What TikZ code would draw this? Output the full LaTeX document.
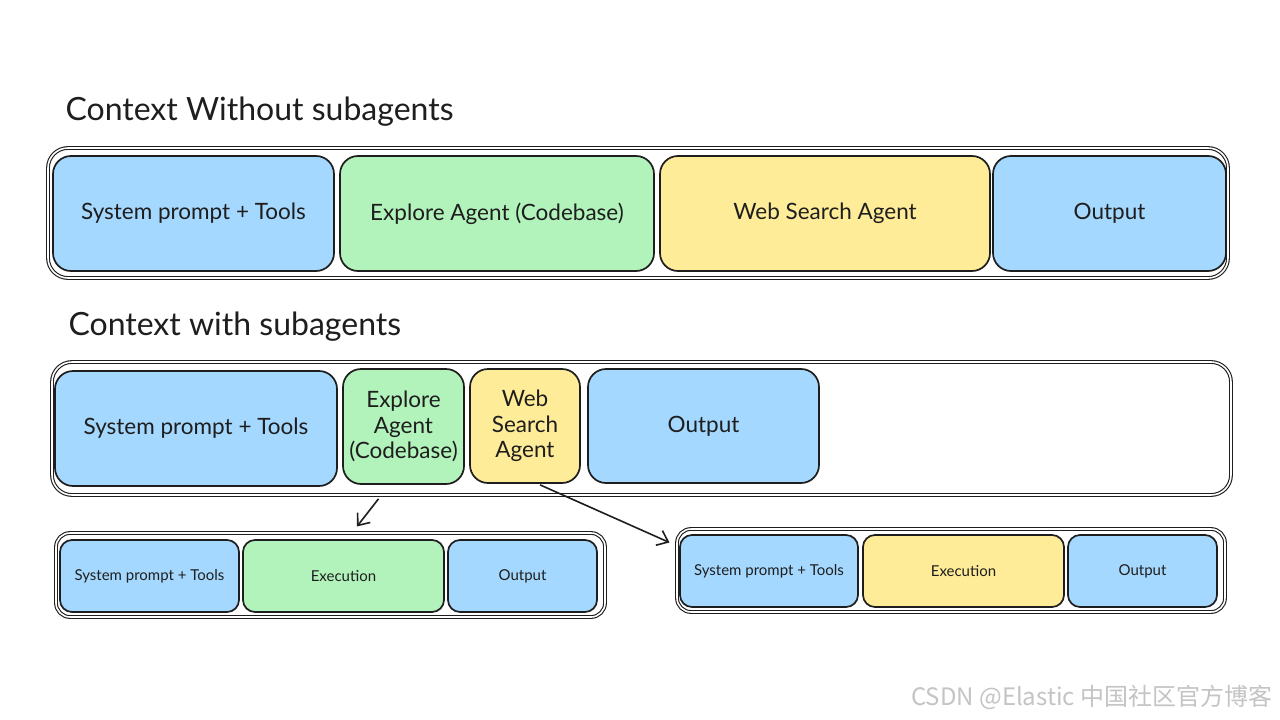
\documentclass[tikz,border=0pt]{standalone}
\usepackage{fontspec}
\setmainfont{Lato}
\newfontfamily\cjkwm{Noto Sans CJK SC}
\usetikzlibrary{arrows.meta}
\definecolor{exblue}{HTML}{A5D8FF}
\definecolor{exgreen}{HTML}{B2F2BB}
\definecolor{exyellow}{HTML}{FFEC99}
\definecolor{exstroke}{HTML}{1E1E1E}
\definecolor{wmgray}{HTML}{C4C4C4}
\tikzset{
  outerbox/.style={draw=exstroke, line width=1.1pt, double=white, double distance=1.6pt, rounded corners=20pt, inner sep=0pt},
  bigbox/.style={draw=exstroke, line width=1.7pt, rounded corners=18pt, inner sep=0pt, align=center, text=exstroke, font=\fontsize{22.5}{25.5}\selectfont},
  smallbox/.style={draw=exstroke, line width=1.7pt, rounded corners=12pt, inner sep=0pt, align=center, text=exstroke, font=\fontsize{15}{18}\selectfont},
  titletext/.style={anchor=west, text=exstroke, font=\fontsize{32}{38}\selectfont},
  link/.style={draw=exstroke, line width=1.6pt, -{Straight Barb[length=10pt,width=16pt,line width=1.6pt]}},
}
\begin{document}
\begin{tikzpicture}[x=1pt,y=-1pt]
\useasboundingbox (0,0) rectangle (1280,720);
\fill[white] (0,0) rectangle (1280,720);

% titles
\node[titletext] (t1) at (62,112) {Context Without subagents};
\node[titletext] (t2) at (65,327) {Context with subagents};

% row 1
\node[outerbox, minimum width=1180pt, minimum height=130pt] (r1) at (638,213) {};
\node[bigbox, fill=exblue,   minimum width=281pt, minimum height=115pt] (s1) at (193.5,213.5) {System prompt + Tools};
\node[bigbox, fill=exgreen,  minimum width=314pt, minimum height=115pt] (e1) at (497,213.5) {Explore Agent (Codebase)};
\node[bigbox, fill=exyellow, minimum width=330pt, minimum height=115pt] (w1) at (825,213.5) {Web Search Agent};
\node[bigbox, fill=exblue,   minimum width=233pt, minimum height=115pt] (o1) at (1109.5,213.5) {Output};

% row 2
\node[outerbox, minimum width=1179pt, minimum height=133pt] (r2) at (641.5,428.5) {};
\node[bigbox, fill=exblue,   minimum width=282pt, minimum height=115pt] (s2) at (196,428.5) {System prompt + Tools};
\node[bigbox, fill=exgreen,  minimum width=121pt, minimum height=115pt] (e2) at (403.5,426.5) {Explore\\Agent\\(Codebase)};
\node[bigbox, fill=exyellow, minimum width=110pt, minimum height=114pt] (w2) at (525,426) {Web\\Search\\Agent};
\node[bigbox, fill=exblue,   minimum width=231pt, minimum height=114pt] (o2) at (703.5,426) {Output};

% sub context 1
\node[outerbox, rounded corners=14pt, minimum width=549pt, minimum height=84pt] (c1) at (330.5,575) {};
\node[smallbox, fill=exblue,  minimum width=179pt, minimum height=72pt] (s3) at (149.5,576) {System prompt + Tools};
\node[smallbox, fill=exgreen, minimum width=201pt, minimum height=72pt] (x3) at (343.5,576) {Execution};
\node[smallbox, fill=exblue,  minimum width=149pt, minimum height=72pt] (o3) at (522.5,576) {Output};

% sub context 2
\node[outerbox, rounded corners=14pt, minimum width=548pt, minimum height=83pt] (c2) at (951,570.5) {};
\node[smallbox, fill=exblue,   minimum width=178pt, minimum height=72pt] (s4) at (769,571) {System prompt + Tools};
\node[smallbox, fill=exyellow, minimum width=201pt, minimum height=72pt] (x4) at (963.5,571) {Execution};
\node[smallbox, fill=exblue,   minimum width=149pt, minimum height=72pt] (o4) at (1142.5,571) {Output};

% arrows
\draw[link] ([xshift=-25pt,yshift=-14pt]e2.south) -- ([xshift=26.5pt,yshift=6pt]c1.north);
\draw[link] ([xshift=15pt,yshift=-1pt]w2.south) -- ([xshift=-7pt,yshift=28pt]c2.west);

% watermark
\node[anchor=east, text=wmgray, font=\cjkwm\fontsize{24}{28}\selectfont] (wm) at (1276,697) {CSDN @Elastic 中国社区官方博客};
\end{tikzpicture}
\end{document}
